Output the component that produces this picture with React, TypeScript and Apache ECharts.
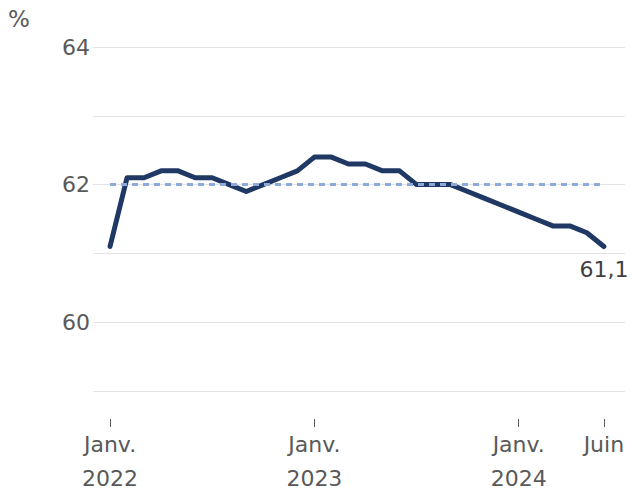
import React, { useEffect, useRef } from "react";
import * as echarts from "echarts";

// Monthly values, Jan 2022 – Jun 2024 (%)
const values: number[] = [
  61.1, 62.1, 62.1, 62.2, 62.2, 62.1, 62.1, 62.0, 61.9, 62.0, 62.1, 62.2,
  62.4, 62.4, 62.3, 62.3, 62.2, 62.2, 62.0, 62.0, 62.0, 61.9, 61.8, 61.7,
  61.6, 61.5, 61.4, 61.4, 61.3, 61.1,
];
const referenceLevel = 62.0;
const tickMonths: number[] = [0, 12, 24, 29];
const tickLabels: string[] = ["Janv.\n2022", "Janv.\n2023", "Janv.\n2024", "Juin"];
const yLabelValues: number[] = [60, 62, 64];

const FONT = "DejaVu Sans";
const TEXT = "#595959";

export default function App() {
  const ref = useRef<HTMLDivElement>(null);
  useEffect(() => {
    if (!ref.current) return;
    const chart = echarts.init(ref.current, null, { renderer: "svg" });
    const lineData = values.map((v, i) => [i, v]);
    const last = values.length - 1;
    const refData = [
      [0, referenceLevel],
      [last, referenceLevel],
    ];
    chart.setOption({
      animation: false,
      backgroundColor: "#ffffff",
      grid: { left: 93, right: 7, top: 47, bottom: 101, containLabel: false },
      graphic: [
        {
          type: "text",
          left: 8,
          top: 7,
          style: { text: "%", fill: TEXT, font: `23px '${FONT}'` },
        },
      ],
      xAxis: {
        type: "value",
        min: -1,
        max: 30.24,
        offset: 28,
        axisLine: { show: false },
        splitLine: { show: false },
        axisTick: {
          show: true,
          customValues: tickMonths,
          length: 8,
          lineStyle: { color: TEXT, width: 1 },
        },
        axisLabel: {
          customValues: tickMonths,
          formatter: (v: number) => {
            const idx = tickMonths.indexOf(Math.round(v));
            return idx >= 0 ? tickLabels[idx] : "";
          },
          color: TEXT,
          fontFamily: FONT,
          fontSize: 22,
          lineHeight: 34,
          margin: 8,
        },
      },
      yAxis: {
        type: "value",
        min: 59,
        max: 64,
        interval: 1,
        axisLine: { show: false },
        axisTick: { show: false },
        splitLine: { show: true, lineStyle: { color: "#e3e3e3", width: 1 } },
        axisLabel: {
          formatter: (v: number) => (yLabelValues.includes(v) ? String(v) : ""),
          color: TEXT,
          fontFamily: FONT,
          fontSize: 22,
          margin: 3,
        },
      },
      series: [
        {
          type: "line",
          data: lineData,
          showSymbol: false,
          symbol: "none",
          lineStyle: { color: "#1f3864", width: 5, join: "round", cap: "round" },
          z: 2,
          markPoint: {
            symbol: "circle",
            symbolSize: 0,
            data: [
              {
                coord: [last, values[last]],
                value: values[last],
                label: {
                  show: true,
                  position: "bottom",
                  distance: 12,
                  formatter: () => String(values[last].toFixed(1)).replace(".", ","),
                  color: "#404040",
                  fontFamily: FONT,
                  fontSize: 22,
                },
              },
            ],
          },
        },
        {
          type: "line",
          data: refData,
          showSymbol: false,
          symbol: "none",
          lineStyle: { color: "#8eaadb", width: 3, type: [6, 5] },
          z: 3,
        },
      ],
    });
    return () => chart.dispose();
  }, []);
  return (
    <div
      ref={ref}
      style={{ position: "fixed", left: 0, top: 0, width: 632, height: 495 }}
    />
  );
}
